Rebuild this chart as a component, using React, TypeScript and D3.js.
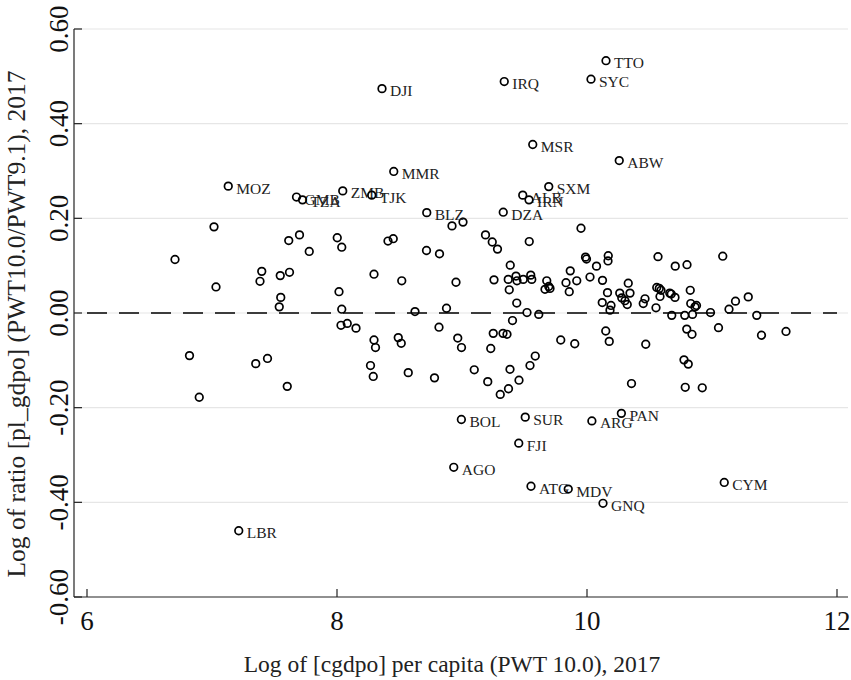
import React from "react";
import * as d3 from "d3";

// Labeled countries
const labCodes = ["TTO","SYC","IRQ","DJI","MSR","ABW","MMR","MOZ","SXM","ZMB","GMB","TZA","TJK","ALB","IRN","BLZ","DZA","BOL","SUR","ARG","PAN","FJI","AGO","ATG","MDV","GNQ","CYM","LBR"];
const labX = [10.152,10.032,9.338,8.36,9.566,10.258,8.454,7.13,9.694,8.046,7.676,7.724,8.278,9.486,9.536,8.718,9.33,8.995,9.506,10.039,10.275,9.454,8.934,9.552,9.85,10.128,11.098,7.214];
const labY = [0.533,0.494,0.489,0.474,0.356,0.322,0.299,0.268,0.267,0.258,0.245,0.239,0.249,0.249,0.239,0.212,0.213,-0.225,-0.22,-0.228,-0.212,-0.275,-0.326,-0.366,-0.372,-0.402,-0.358,-0.46];

// Unlabeled countries
const ptsX = [6.704,7.016,7.032,6.82,6.898,7.398,7.384,7.546,7.62,7.614,7.7,7.778,7.55,7.538,7.35,7.444,7.602,
  8.002,8.038,8.408,8.45,8.716,8.82,8.92,9.008,8.296,8.518,8.952,8.016,8.038,8.624,8.876,8.032,8.082,8.152,8.296,8.308,8.49,8.514,8.816,8.966,8.996,8.268,8.29,8.57,8.78,
  9.188,9.242,9.284,9.538,9.952,9.988,9.996,10.076,9.386,9.256,9.37,9.432,9.44,9.49,9.55,9.558,9.378,9.678,9.664,9.694,9.704,9.832,9.866,9.918,9.858,10.024,10.124,10.122,9.438,9.52,9.614,9.404,9.25,9.328,9.36,9.23,9.79,9.902,9.586,9.544,9.384,9.098,9.206,9.456,9.372,9.306,
  10.17,10.168,10.568,10.706,10.8,11.086,10.33,10.164,10.262,10.344,10.192,10.184,10.278,10.304,10.322,10.464,10.45,10.552,10.558,10.578,10.592,10.584,10.662,10.674,10.704,10.826,10.83,10.864,10.876,10.678,10.782,10.844,10.988,11.052,10.798,10.84,10.15,10.178,10.47,10.776,10.81,10.356,10.786,10.922,
  11.136,11.188,11.29,11.358,11.396,11.592];
const ptsY = [0.113,0.182,0.055,-0.09,-0.178,0.088,0.067,0.079,0.086,0.153,0.165,0.13,0.033,0.013,-0.107,-0.096,-0.155,
  0.159,0.139,0.152,0.157,0.132,0.125,0.184,0.192,0.082,0.068,0.065,0.045,0.008,0.003,0.01,-0.026,-0.022,-0.032,-0.057,-0.073,-0.052,-0.064,-0.03,-0.053,-0.073,-0.111,-0.134,-0.126,-0.137,
  0.165,0.15,0.135,0.151,0.179,0.118,0.114,0.099,0.101,0.07,0.071,0.078,0.068,0.071,0.08,0.071,0.049,0.068,0.05,0.056,0.052,0.064,0.089,0.068,0.045,0.076,0.069,0.022,0.021,0.001,-0.003,-0.016,-0.043,-0.043,-0.045,-0.075,-0.057,-0.065,-0.091,-0.111,-0.119,-0.12,-0.145,-0.142,-0.16,-0.172,
  0.121,0.11,0.119,0.099,0.102,0.12,0.063,0.043,0.042,0.042,0.016,0.006,0.032,0.026,0.018,0.03,0.02,0.011,0.054,0.052,0.048,0.035,0.042,0.04,0.033,0.048,0.02,0.013,0.016,-0.005,-0.005,-0.003,0.001,-0.031,-0.034,-0.045,-0.038,-0.06,-0.066,-0.099,-0.108,-0.149,-0.157,-0.158,
  0.008,0.025,0.034,-0.005,-0.047,-0.039];

const xTicks = [6, 8, 10, 12];
const yTicks = [-0.6, -0.4, -0.2, 0, 0.2, 0.4, 0.6];
const xTitle = "Log of [cgdpo] per capita (PWT 10.0), 2017";
const yTitle = "Log of ratio [pl_gdpo] (PWT10.0/PWT9.1), 2017";

const W = 851, H = 680;
const FONT = "'Liberation Serif', 'Times New Roman', serif";

export default function App() {
  const x = d3.scaleLinear().domain([6, 12]).range([87, 837]);
  const y = d3.scaleLinear().domain([-0.6, 0.6]).range([597, 29]);
  const left = 74, right = 848;
  const top = y(0.6), bottom = y(-0.6);
  const fmt = (v: number) => d3.format(".2f")(v).replace("\u2212", "-");
  const r = 3.8;
  return (
    <svg width={W} height={H} style={{ position: "absolute", left: 0, top: 0, background: "#fff" }}
      fontFamily={FONT}>
      <rect x={0} y={0} width={W} height={H} fill="#fff" />
      {yTicks.filter(v => v !== -0.6).map(v => (
        <line key={"g" + v} x1={left} x2={right} y1={y(v)} y2={y(v)} stroke="#e6e6e6" strokeWidth={1.2} />
      ))}
      <line x1={x(6)} x2={x(12)} y1={y(0)} y2={y(0)} stroke="#000" strokeWidth={1.4} strokeDasharray="20 12" />
      <line x1={left} x2={left} y1={top} y2={bottom} stroke="#222" strokeWidth={1.2} />
      <line x1={left} x2={right} y1={bottom} y2={bottom} stroke="#222" strokeWidth={1.2} />
      {yTicks.map(v => (
        <g key={"yt" + v}>
          <line x1={left} x2={left + 8} y1={y(v)} y2={y(v)} stroke="#222" strokeWidth={1.2} />
          <text x={68} y={y(v)} transform={`rotate(-90, 68, ${y(v)})`} textAnchor="middle" fontSize={27} fill="#111">{fmt(v)}</text>
        </g>
      ))}
      {xTicks.map(v => (
        <g key={"xt" + v}>
          <line x1={x(v)} x2={x(v)} y1={bottom} y2={bottom - 8} stroke="#222" strokeWidth={1.2} />
          <text x={x(v)} y={630} textAnchor="middle" fontSize={27} fill="#111">{v}</text>
        </g>
      ))}
      <text x={452} y={672} textAnchor="middle" fontSize={23.5} fill="#222">{xTitle}</text>
      <text x={25} y={324} transform="rotate(-90, 25, 324)" textAnchor="middle" fontSize={25.5} fill="#222">{yTitle}</text>
      {ptsX.map((v, i) => (
        <circle key={"p" + i} cx={x(v)} cy={y(ptsY[i])} r={r} fill="none" stroke="#000" strokeWidth={1.7} />
      ))}
      {labX.map((v, i) => (
        <g key={"l" + i}>
          <circle cx={x(v)} cy={y(labY[i])} r={r} fill="none" stroke="#000" strokeWidth={1.7} />
          <text x={x(v) + 8} y={y(labY[i]) + 7.5} fontSize={15.5} fill="#222">{labCodes[i]}</text>
        </g>
      ))}
    </svg>
  );
}
